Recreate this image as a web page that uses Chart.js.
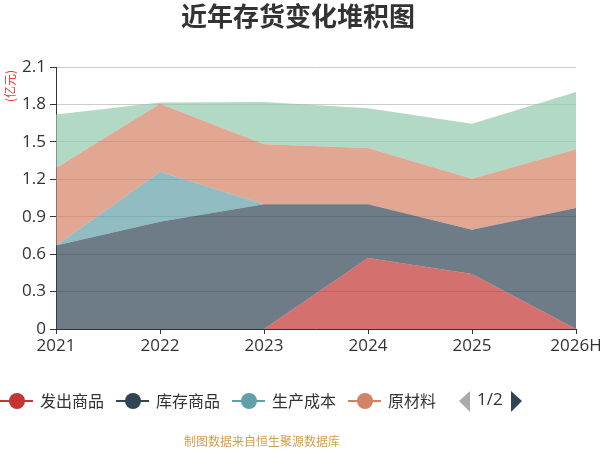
<!DOCTYPE html>
<html>
<head>
<meta charset="utf-8">
<script src="https://cdn.jsdelivr.net/npm/chart.js@4"></script>
<style>
  body { margin: 0; background: #fff; }
  #wrap { width: 600px; height: 450px; }
</style>
</head>
<body>
<div id="wrap"><canvas id="chart"></canvas></div>
<script>
// data (亿元)
const years = ["2021", "2022", "2023", "2024", "2025", "2026H"];
const faChu = [0, 0, 0, 0.57, 0.44, 0];
const kuCun = [0.67, 0.86, 1.0, 0.43, 0.355, 0.97];
const shengChan = [0, 0.40, 0, 0, 0, 0];
const yuanCai = [0.62, 0.545, 0.48, 0.45, 0.41, 0.47];
const zhouZhuan = [0.43, 0.01, 0.34, 0.32, 0.44, 0.46];
const yTicks = [0, 0.3, 0.6, 0.9, 1.2, 1.5, 1.8, 2.1];

const names = ["发出商品", "库存商品", "生产成本", "原材料", "周转材料"];
const colors = ["#c23531", "#2f4554", "#61a0a8", "#d48265", "#91c7ae"];
const FONT = "'Open Sans', 'Noto Sans CJK SC', sans-serif";

function hexA(hex, a) {
  const n = parseInt(hex.slice(1), 16);
  return "rgba(" + (n >> 16) + "," + ((n >> 8) & 255) + "," + (n & 255) + "," + a + ")";
}

const series = [faChu, kuCun, shengChan, yuanCai, zhouZhuan];
const datasets = series.map((d, i) => ({
  label: names[i],
  data: d,
  fill: i === 0 ? "origin" : "-1",
  backgroundColor: hexA(colors[i], 0.7),
  borderColor: hexA(colors[i], 0.7),
  borderWidth: 0,
  pointRadius: 0,
  tension: 0,
}));

// title, unit, custom legend, footer
const extras = {
  id: "extras",
  afterDraw(chart) {
    const ctx = chart.ctx;
    ctx.save();
    ctx.textBaseline = "middle";

    ctx.fillStyle = "#333";
    ctx.font = "bold 26px 'Noto Sans CJK SC', sans-serif";
    ctx.textAlign = "center";
    ctx.fillText("近年存货变化堆积图", 298, 16);

    // unit label
    ctx.save();
    ctx.translate(10, 86);
    ctx.rotate(-Math.PI / 2);
    ctx.fillStyle = "#e0403a";
    ctx.font = "12px 'Noto Sans CJK SC', sans-serif";
    ctx.fillText("(亿元)", 0, 0);
    ctx.restore();

    // legend, first page
    const xs = [0, 116, 232, 348];
    const ly = 401;
    ctx.textAlign = "left";
    ctx.font = "16px 'Noto Sans CJK SC', sans-serif";
    for (let i = 0; i < 4; i++) {
      const x = xs[i];
      ctx.strokeStyle = colors[i];
      ctx.lineWidth = 2;
      ctx.beginPath();
      ctx.moveTo(x, ly);
      ctx.lineTo(x + 33, ly);
      ctx.stroke();
      ctx.fillStyle = colors[i];
      ctx.beginPath();
      ctx.arc(x + 17, ly, 8, 0, Math.PI * 2);
      ctx.fill();
      ctx.fillStyle = "#333";
      ctx.fillText(names[i], x + 40, ly);
    }
    // pager
    ctx.fillStyle = "#aaa";
    ctx.beginPath();
    ctx.moveTo(459, ly);
    ctx.lineTo(470, ly - 10);
    ctx.lineTo(470, ly + 11);
    ctx.closePath();
    ctx.fill();
    ctx.fillStyle = "#333";
    ctx.font = "17px " + FONT;
    ctx.fillText("1/2", 477, ly - 1);
    ctx.fillStyle = "#2f4554";
    ctx.beginPath();
    ctx.moveTo(522, ly);
    ctx.lineTo(511, ly - 10);
    ctx.lineTo(511, ly + 11);
    ctx.closePath();
    ctx.fill();

    ctx.textAlign = "center";
    ctx.fillStyle = "#d2a04a";
    ctx.font = "12px 'Noto Sans CJK SC', sans-serif";
    ctx.fillText("制图数据来自恒生聚源数据库", 262, 441);
    ctx.restore();
  },
};

new Chart(document.getElementById("chart"), {
  type: "line",
  data: { labels: years, datasets: datasets },
  plugins: [extras],
  options: {
    responsive: true,
    maintainAspectRatio: false,
    animation: false,
    layout: { padding: { top: 67, right: 24, bottom: 91, left: 0 } },
    plugins: {
      legend: { display: false },
      tooltip: { enabled: false },
      title: { display: false },
    },
    scales: {
      x: {
        offset: false,
        grid: { drawOnChartArea: false, tickLength: 5, color: "#333" },
        border: { color: "#333", width: 1 },
        ticks: { color: "#333", font: { size: 17, family: FONT }, padding: 2, maxRotation: 0, autoSkip: false },
        afterFit(scale) {
          scale.height = 30;
          scale.paddingLeft = 0;
          scale.paddingRight = 0;
        },
      },
      y: {
        stacked: true,
        min: 0,
        max: 2.1,
        grid: { color: "#ccc", tickLength: 6, tickColor: "#333" },
        border: { color: "#333", width: 1 },
        ticks: {
          color: "#333",
          font: { size: 17, family: FONT },
          padding: 4,
          stepSize: 0.3,
          callback: (v) => {
            const t = yTicks.find((k) => Math.abs(k - v) < 1e-6);
            return t === undefined ? "" : String(t);
          },
        },
        afterFit(scale) {
          scale.width = 56;
          scale.paddingTop = 0;
          scale.paddingBottom = 0;
        },
      },
    },
  },
});
</script>
</body>
</html>
